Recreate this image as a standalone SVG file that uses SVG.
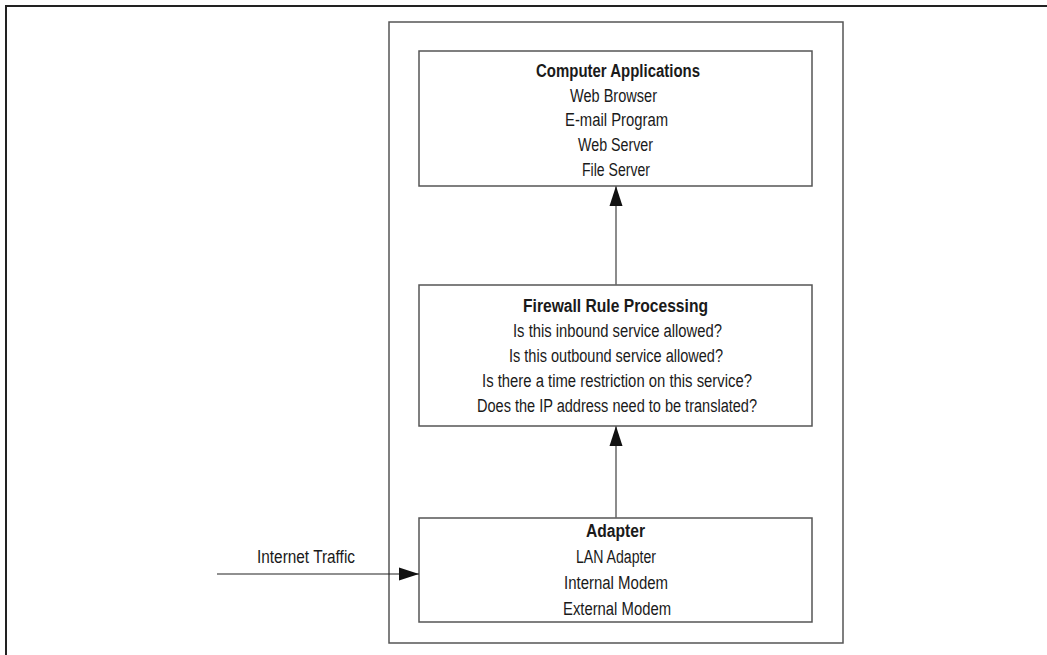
<svg xmlns="http://www.w3.org/2000/svg" width="1047" height="655" viewBox="0 0 1047 655">
<style>
.frame{fill:none;stroke:#222;stroke-width:2}
.box{fill:#fff;stroke:#555;stroke-width:1.5}
.cont{fill:none;stroke:#555;stroke-width:1.5}
.conn{stroke:#666;stroke-width:1.5;fill:none}
.ih{stroke:#222;stroke-width:1.2;fill:none}
text{font-family:"Liberation Sans",Arial,sans-serif;font-size:18px;fill:#1a1a1a;text-anchor:middle}
.t{font-weight:bold}
</style>
<defs>
<marker id="ah" markerWidth="20" markerHeight="14" refX="20" refY="7" orient="auto" markerUnits="userSpaceOnUse">
<path d="M0,0.5 L20,7 L0,13.5 Z" fill="#111"/>
</marker>
</defs>
<rect width="1047" height="655" fill="#fff"/>
<path class="frame" d="M6,660 L6,6 L1050,6"/>
<rect id="container" class="cont" x="389" y="22" width="454" height="621"/>
<g id="apps">
<rect class="box" x="419" y="51" width="393" height="135"/>
<text class="t" x="618" y="77" textLength="164" lengthAdjust="spacingAndGlyphs">Computer Applications</text>
<text x="613.5" y="102" textLength="87" lengthAdjust="spacingAndGlyphs">Web Browser</text>
<text x="616.5" y="126" textLength="103" lengthAdjust="spacingAndGlyphs">E-mail Program</text>
<text x="615.5" y="151" textLength="75" lengthAdjust="spacingAndGlyphs">Web Server</text>
<text x="616" y="176" textLength="68" lengthAdjust="spacingAndGlyphs">File Server</text>
</g>
<g id="firewall">
<rect class="box" x="419" y="285" width="393" height="141"/>
<text class="t" x="615.5" y="312" textLength="185" lengthAdjust="spacingAndGlyphs">Firewall Rule Processing</text>
<text x="617.5" y="337" textLength="209" lengthAdjust="spacingAndGlyphs">Is this inbound service allowed?</text>
<text x="616" y="362" textLength="214" lengthAdjust="spacingAndGlyphs">Is this outbound service allowed?</text>
<text x="617" y="387" textLength="270" lengthAdjust="spacingAndGlyphs">Is there a time restriction on this service?</text>
<text x="617" y="412" textLength="280" lengthAdjust="spacingAndGlyphs">Does the IP address need to be translated?</text>
</g>
<g id="adapter">
<rect class="box" x="419" y="518" width="393" height="104"/>
<text class="t" x="615.5" y="537" textLength="59" lengthAdjust="spacingAndGlyphs">Adapter</text>
<text x="616" y="563" textLength="80" lengthAdjust="spacingAndGlyphs">LAN Adapter</text>
<text x="616" y="589" textLength="104" lengthAdjust="spacingAndGlyphs">Internal Modem</text>
<text x="617" y="615" textLength="108" lengthAdjust="spacingAndGlyphs">External Modem</text>
</g>
<g id="connectors">
<line class="conn" x1="616" y1="518" x2="616" y2="426" marker-end="url(#ah)"/>
<line class="conn" x1="616" y1="285" x2="616" y2="186" marker-end="url(#ah)"/>
<line class="ih" x1="217" y1="574" x2="419" y2="574" marker-end="url(#ah)"/>
<text x="306" y="563" textLength="98" lengthAdjust="spacingAndGlyphs">Internet Traffic</text>
</g>
</svg>
